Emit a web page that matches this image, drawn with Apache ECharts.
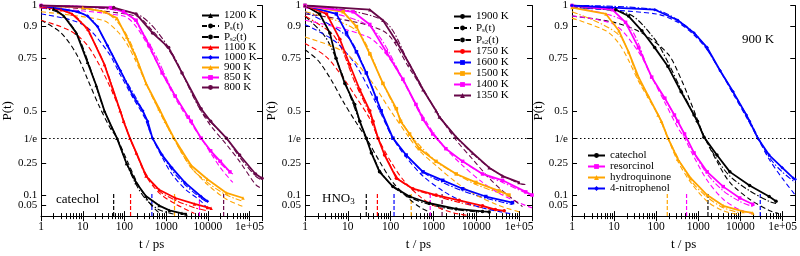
<!DOCTYPE html>
<html>
<head>
<meta charset="utf-8">
<script src="https://cdn.jsdelivr.net/npm/echarts@6/dist/echarts.min.js"></script>
<style>
html, body { margin: 0; padding: 0; background: #fff; }
#chart { width: 800px; height: 256px; }
</style>
</head>
<body>
<div id="chart"></div>
<script>
// ---- data: [t / ps, P(t)] ----

// panel 1: catechol
const cat1200 = [[1,1],[2,0.985],[3.5,0.95],[7,0.87],[13,0.73],[21,0.62],[33,0.5],[50,0.42],[66,0.37],[112,0.25],[190,0.16],[325,0.095],[680,0.05],[1200,0.027],[2400,0.013],[3000,0.01]];
const cat1100 = [[1,0.995],[3,0.98],[5.5,0.96],[13,0.89],[33,0.72],[55,0.59],[79,0.5],[95,0.45],[135,0.37],[193,0.3],[330,0.19],[680,0.125],[1660,0.086],[4800,0.058],[9800,0.041],[12000,0.037]];
const cat1000 = [[1,1],[7.8,0.97],[13,0.95],[22.6,0.9],[39,0.81],[80,0.69],[162,0.57],[275,0.5],[360,0.45],[470,0.37],[800,0.29],[1370,0.23],[2800,0.16],[6900,0.093],[9800,0.071]];
const cat900 = [[1,1],[10,0.99],[33,0.97],[66,0.94],[113,0.85],[193,0.75],[330,0.63],[680,0.51],[960,0.45],[1500,0.375],[2380,0.31],[4000,0.24],[9800,0.175],[28000,0.11],[70000,0.086]];
const cat850 = [[1,1],[46,0.99],[95,0.97],[190,0.93],[390,0.81],[800,0.68],[1650,0.57],[3400,0.47],[4000,0.45],[6900,0.37],[11700,0.31],[20000,0.26],[34000,0.21]];
const cat800 = [[1,1],[55,0.99],[190,0.96],[470,0.87],[1150,0.8],[2400,0.68],[6900,0.51],[11700,0.45],[28000,0.37],[58000,0.29],[140000,0.2],[200000,0.18]];

const cat1200Ps = [[1,0.93],[3,0.87],[7,0.77],[13,0.65],[25,0.52],[45,0.42],[66,0.37],[124,0.25],[200,0.16],[300,0.1],[450,0.05],[680,0.015]];
const cat1100Ps = [[1,0.93],[5,0.88],[13,0.81],[33,0.67],[79,0.5],[135,0.37],[200,0.29],[330,0.19],[680,0.11],[1660,0.058],[4800,0.012]];
const cat1000Ps = [[1,0.96],[10,0.91],[40,0.78],[80,0.67],[162,0.56],[300,0.47],[470,0.37],[800,0.28],[1370,0.2],[2800,0.13],[6900,0.07],[9800,0.035]];
const cat900Ps = [[1,0.97],[30,0.93],[66,0.88],[113,0.82],[193,0.73],[330,0.63],[680,0.5],[1500,0.37],[2380,0.3],[4000,0.23],[9800,0.15],[28000,0.08],[70000,0.046]];
const cat850Ps = [[1,0.99],[95,0.95],[190,0.9],[390,0.8],[800,0.68],[1650,0.56],[3400,0.46],[6900,0.37],[11700,0.3],[20000,0.23],[34000,0.175],[40000,0.16]];
const cat800Ps = [[1,1],[190,0.95],[470,0.88],[1150,0.79],[2400,0.68],[6900,0.5],[11700,0.43],[28000,0.34],[58000,0.26],[140000,0.15],[200000,0.13]];

const cat1200Ps2 = [[1,0.99],[3,0.96],[7,0.87],[13,0.74],[33,0.5],[66,0.37],[112,0.25],[190,0.15],[325,0.08],[680,0.03],[1500,0.01]];
const cat1100Ps2 = [[1,0.99],[5.5,0.96],[13,0.88],[33,0.72],[79,0.5],[135,0.37],[330,0.2],[680,0.12],[1660,0.075],[4800,0.04],[10000,0.025]];
const cat1000Ps2 = [[1,0.99],[13,0.95],[39,0.81],[80,0.69],[275,0.5],[470,0.37],[1370,0.22],[2800,0.15],[6900,0.085],[10000,0.065]];
const cat900Ps2 = [[1,1],[33,0.97],[113,0.86],[330,0.63],[680,0.5],[1500,0.37],[4000,0.23],[9800,0.16],[28000,0.1],[70000,0.07]];
const cat850Ps2 = [[1,1],[95,0.97],[390,0.82],[1650,0.57],[3400,0.47],[6900,0.37],[20000,0.25],[40000,0.2]];
const cat800Ps2 = [[1,1],[190,0.96],[1150,0.8],[6900,0.5],[28000,0.37],[58000,0.28],[140000,0.19],[200000,0.17]];

// panel 2: HNO3
const hno1900 = [[1,1],[2.2,0.96],[3.8,0.87],[5.3,0.75],[8.5,0.63],[14.5,0.53],[19,0.45],[27,0.37],[35.5,0.3],[55,0.21],[113,0.14],[277,0.093],[800,0.061],[3400,0.034],[14000,0.022],[20000,0.02]];
const hno1750 = [[1,1],[3.2,0.96],[6.5,0.84],[11,0.72],[19,0.6],[32.6,0.5],[38.8,0.45],[50.8,0.37],[72,0.29],[136,0.18],[330,0.13],[1150,0.1],[4000,0.075],[14000,0.049],[28000,0.031],[45000,0.025]];
const hno1600 = [[1,1],[5.4,0.96],[9.3,0.87],[15.9,0.78],[27,0.68],[46,0.56],[60,0.5],[113,0.37],[230,0.29],[570,0.21],[1650,0.17],[4800,0.13],[16700,0.093],[70000,0.064]];
const hno1500 = [[1,1],[7.8,0.97],[15.9,0.9],[32.6,0.77],[66,0.63],[136,0.51],[170,0.45],[277,0.39],[470,0.32],[1150,0.26],[3400,0.2],[9800,0.16],[34000,0.12],[58000,0.1]];
const hno1400 = [[1,1],[13.3,0.97],[32.6,0.91],[79,0.78],[193,0.65],[390,0.53],[570,0.46],[960,0.39],[1950,0.32],[4800,0.26],[14000,0.2],[41000,0.17],[143000,0.115],[200000,0.1]];
const hno1350 = [[1,1],[32.6,0.98],[66,0.93],[136,0.83],[277,0.72],[570,0.6],[1150,0.5],[1370,0.47],[3400,0.375],[8200,0.3],[20000,0.23],[41000,0.19],[100000,0.16]];

const hno1900Ps = [[1,0.79],[2,0.74],[4,0.65],[8,0.54],[15,0.45],[27,0.37],[55,0.26],[113,0.16],[277,0.08],[500,0.04],[800,0.02]];
const hno1750Ps = [[1,0.82],[3,0.76],[7,0.67],[15,0.57],[33,0.46],[51,0.37],[100,0.26],[200,0.17],[500,0.09],[1150,0.045],[3000,0.015],[6000,0.004]];
const hno1600Ps = [[1,0.91],[5,0.83],[15,0.72],[40,0.56],[113,0.37],[230,0.28],[570,0.19],[1650,0.12],[4800,0.07],[16700,0.035],[70000,0.01]];
const hno1500Ps = [[1,0.85],[8,0.78],[30,0.66],[100,0.5],[277,0.37],[470,0.31],[1150,0.24],[3400,0.16],[9800,0.1],[34000,0.05],[100000,0.02]];
const hno1400Ps = [[1,0.93],[30,0.85],[100,0.74],[390,0.53],[960,0.4],[1950,0.32],[4800,0.24],[14000,0.16],[41000,0.1],[143000,0.05],[200000,0.04]];
const hno1350Ps = [[1,0.96],[66,0.88],[277,0.7],[1150,0.5],[3400,0.36],[8200,0.27],[20000,0.18],[41000,0.12],[120000,0.045]];

const hno1900Ps2 = [[1,0.95],[3,0.85],[6,0.72],[14,0.52],[27,0.37],[55,0.22],[113,0.14],[277,0.09],[800,0.055],[3400,0.03],[14000,0.018]];
const hno1750Ps2 = [[1,0.95],[5,0.85],[15,0.63],[33,0.48],[51,0.37],[136,0.19],[330,0.13],[1150,0.095],[4000,0.065],[14000,0.04],[28000,0.03]];
const hno1600Ps2 = [[1,0.97],[10,0.85],[27,0.68],[60,0.5],[113,0.37],[570,0.21],[1650,0.16],[4800,0.12],[16700,0.085],[70000,0.055]];
const hno1500Ps2 = [[1,0.97],[16,0.88],[66,0.63],[136,0.5],[277,0.39],[1150,0.26],[3400,0.2],[9800,0.15],[34000,0.11],[58000,0.095]];
const hno1400Ps2 = [[1,0.99],[32.6,0.9],[193,0.65],[570,0.46],[1950,0.32],[14000,0.2],[41000,0.16],[143000,0.11],[200000,0.1]];
const hno1350Ps2 = [[1,1],[66,0.93],[277,0.72],[1150,0.5],[3400,0.375],[20000,0.23],[100000,0.155],[140000,0.15]];

// panel 3: 900 K, four molecules
const catechol = [[1,1],[11,0.98],[22,0.95],[45.6,0.88],[92,0.8],[190,0.71],[390,0.59],[790,0.48],[950,0.45],[1360,0.375],[2760,0.29],[5600,0.21],[16500,0.145],[48000,0.093],[70000,0.071]];
const resorcinol = [[1,1],[9.1,0.98],[18.7,0.92],[38,0.8],[78,0.66],[160,0.56],[270,0.48],[325,0.45],[470,0.39],[790,0.3],[1620,0.21],[3900,0.14],[9600,0.086],[19600,0.056]];
const hydroquinone = [[1,0.99],[6.4,0.96],[13,0.88],[22,0.78],[38,0.66],[65,0.57],[111,0.48],[133,0.45],[190,0.37],[325,0.27],[660,0.18],[1620,0.1],[3900,0.049],[11500,0.022],[19600,0.015]];
const nitrophenol = [[1,1],[9,0.99],[93,0.98],[325,0.93],[790,0.87],[1620,0.8],[3300,0.69],[6700,0.59],[13800,0.48],[16500,0.45],[25800,0.37],[48000,0.29],[98000,0.23],[180000,0.18],[200000,0.175]];

const catecholPs = [[1,0.95],[10,0.92],[45,0.87],[190,0.77],[390,0.65],[790,0.5],[1360,0.38],[2760,0.26],[5600,0.16],[16500,0.08],[48000,0.027],[80000,0.012]];
const resorcinolPs = [[1,0.95],[10,0.91],[38,0.78],[78,0.66],[160,0.54],[325,0.42],[470,0.37],[790,0.28],[1620,0.17],[3900,0.08],[9600,0.03],[19600,0.012]];
const hydroquinonePs = [[1,0.94],[6.4,0.88],[13,0.82],[22,0.74],[38,0.64],[65,0.56],[133,0.45],[190,0.37],[325,0.26],[660,0.16],[1620,0.07],[3900,0.025],[10000,0.005]];
const nitrophenolPs = [[1,0.99],[100,0.96],[325,0.92],[790,0.86],[1620,0.79],[3300,0.69],[6700,0.58],[13800,0.47],[25800,0.37],[48000,0.27],[98000,0.18],[200000,0.1]];

const catecholPs2 = [[1,0.99],[22,0.96],[92,0.84],[190,0.73],[390,0.6],[790,0.48],[1360,0.38],[2760,0.27],[5600,0.19],[16500,0.12],[48000,0.07],[70000,0.06]];
const resorcinolPs2 = [[1,0.99],[18.7,0.92],[78,0.66],[270,0.48],[790,0.3],[1620,0.2],[3900,0.12],[9600,0.07],[19600,0.045]];
const hydroquinonePs2 = [[1,0.97],[13,0.86],[38,0.65],[111,0.48],[190,0.37],[660,0.17],[1620,0.09],[3900,0.04],[10000,0.015]];
const nitrophenolPs2 = [[1,1],[93,0.98],[790,0.87],[3300,0.69],[13800,0.48],[48000,0.28],[98000,0.21],[200000,0.16]];

// short vertical markers at the bottom (t values)
const catTau = [55, 140, 455, 1590, 6300, 24000];
const hnoTau = [27, 49, 120, 302, 840, 1590];
const molTau = [1690, 525, 183, 29500];
const tauTop = 0.115;

// axis ticks (0.05 gets its own label axis so ECharts does not drop it or 0.1)
const yTicks = [0.05, 0.1, 0.25, 1 / Math.E, 0.5, 0.75, 0.9, 1];
const yLabelsMain = [0.1, 0.25, 1 / Math.E, 0.5, 0.75, 0.9, 1];
const yLabelsLow = [0.05];

const BLACK = '#000000', RED = '#ff0000', BLUE = '#0000ff', ORANGE = '#ffa500', MAGENTA = '#ff00ff', MAROON = '#670748';
const FONT = 'Liberation Serif';

// ---- chart ----
const chart = echarts.init(document.getElementById('chart'));

const grids = [
    { left: 35, top: 4, width: 227, height: 225 },
    { left: 305, top: 4, width: 227, height: 225 },
    { left: 572, top: 4, width: 226, height: 225 },
];

const yFmt = v => (Math.abs(v - 1 / Math.E) < 1e-6 ? '1/e' : String(v));
const yLabelStyle = { color: BLACK, fontFamily: FONT, fontSize: 11, margin: 4, hideOverlap: false, formatter: yFmt };

const xAxes = [];
const yAxes = [];
grids.forEach((g, i) => {
    const tick = { inside: true, length: 5, lineStyle: { color: BLACK } };
    const minor = { show: true, splitNumber: 9, length: 3, lineStyle: { color: BLACK } };
    xAxes.push({
        type: 'log', logBase: 10, gridIndex: i, min: 1, max: 200000, position: 'bottom',
        axisLine: { lineStyle: { color: BLACK, width: 1 } },
        axisTick: tick, minorTick: minor,
        splitLine: { show: false },
        axisLabel: {
            color: BLACK, fontFamily: FONT, fontSize: 11.5, margin: 5, hideOverlap: false,
            formatter: v => (v >= 100000 ? '1e+05' : String(v)),
        },
        name: 't / ps', nameLocation: 'middle', nameGap: 20,
        nameTextStyle: { color: BLACK, fontFamily: FONT, fontSize: 13 },
    });
    xAxes.push({
        type: 'log', logBase: 10, gridIndex: i, min: 1, max: 200000, position: 'top',
        axisLine: { lineStyle: { color: BLACK, width: 1 } },
        axisTick: tick, minorTick: minor,
        splitLine: { show: false }, axisLabel: { show: false },
    });
    // left axis: line, ticks, most labels
    yAxes.push({
        type: 'value', gridIndex: i, min: 0, max: 1, position: 'left', offset: 0,
        axisLine: { show: true, lineStyle: { color: BLACK, width: 1 } },
        axisTick: { inside: true, length: 5, customValues: yTicks, lineStyle: { color: BLACK } },
        splitLine: { show: false },
        axisLabel: Object.assign({ customValues: yLabelsMain }, yLabelStyle),
        name: 'P(t)', nameLocation: 'middle', nameGap: 24, nameRotate: 90,
        nameTextStyle: { color: BLACK, fontFamily: FONT, fontSize: 13 },
    });
    // right mirror
    yAxes.push({
        type: 'value', gridIndex: i, min: 0, max: 1, position: 'right', offset: 0,
        axisLine: { show: true, lineStyle: { color: BLACK, width: 1 } },
        axisTick: { inside: true, length: 5, customValues: yTicks, lineStyle: { color: BLACK } },
        splitLine: { show: false }, axisLabel: { show: false },
    });
    // left, label 0.05 only
    yAxes.push({
        type: 'value', gridIndex: i, min: 0, max: 1, position: 'left', offset: 0,
        axisLine: { show: false }, axisTick: { show: false }, splitLine: { show: false },
        axisLabel: Object.assign({ customValues: yLabelsLow }, yLabelStyle),
    });
});

const series = [];

function dataLine(name, data, color, panel, symbol) {
    series.push({
        type: 'line', name, data, xAxisIndex: panel * 2, yAxisIndex: panel * 3,
        symbol, symbolSize: 3.5, showSymbol: true,
        lineStyle: { color, width: 1.8 }, itemStyle: { color }, z: 4,
    });
}
function fitLine(name, data, color, panel, dash) {
    series.push({
        type: 'line', name, data, xAxisIndex: panel * 2, yAxisIndex: panel * 3,
        symbol: 'none', smooth: 0.3,
        lineStyle: { color, width: 1.1, type: dash }, itemStyle: { color }, z: 3,
    });
}
function tauLines(taus, colors, panel) {
    taus.forEach((t, k) => {
        series.push({
            type: 'line', name: 'tau', data: [[t, 0], [t, tauTop]],
            xAxisIndex: panel * 2, yAxisIndex: panel * 3, symbol: 'none',
            lineStyle: { color: colors[k], width: 1.2, type: [4, 2] }, z: 2,
        });
    });
}
function eLine(panel) {
    series.push({
        type: 'line', name: 'one over e', data: [],
        xAxisIndex: panel * 2, yAxisIndex: panel * 3,
        markLine: {
            silent: true, symbol: 'none', label: { show: false },
            lineStyle: { color: BLACK, width: 1, type: [1.5, 2.5] },
            data: [{ yAxis: 1 / Math.E }],
        },
    });
}

const DASH = [5, 3];
const DASHDOT = [6, 2, 1.5, 2];

// panel 1
eLine(0);
const catSets = [
    ['1200 K', cat1200, cat1200Ps, cat1200Ps2, BLACK, 'triangle'],
    ['1100 K', cat1100, cat1100Ps, cat1100Ps2, RED, 'triangle'],
    ['1000 K', cat1000, cat1000Ps, cat1000Ps2, BLUE, 'diamond'],
    ['900 K', cat900, cat900Ps, cat900Ps2, ORANGE, 'triangle'],
    ['850 K', cat850, cat850Ps, cat850Ps2, MAGENTA, 'rect'],
    ['800 K', cat800, cat800Ps, cat800Ps2, MAROON, 'circle'],
];
catSets.forEach(([n, d, ps, ps2, c, s], k) => {
    fitLine(k === 0 ? 'Ps' : n + ' Ps', ps, c, 0, DASH);
    fitLine(k === 0 ? 'Ps2' : n + ' Ps2', ps2, c, 0, DASHDOT);
    dataLine(n, d, c, 0, s);
});
tauLines(catTau, [BLACK, RED, BLUE, ORANGE, MAGENTA, MAROON], 0);

// panel 2
eLine(1);
const hnoSets = [
    ['1900 K', hno1900, hno1900Ps, hno1900Ps2, BLACK, 'circle'],
    ['1750 K', hno1750, hno1750Ps, hno1750Ps2, RED, 'circle'],
    ['1600 K', hno1600, hno1600Ps, hno1600Ps2, BLUE, 'rect'],
    ['1500 K', hno1500, hno1500Ps, hno1500Ps2, ORANGE, 'rect'],
    ['1400 K', hno1400, hno1400Ps, hno1400Ps2, MAGENTA, 'rect'],
    ['1350 K', hno1350, hno1350Ps, hno1350Ps2, MAROON, 'triangle'],
];
hnoSets.forEach(([n, d, ps, ps2, c, s]) => {
    fitLine(n + ' Ps', ps, c, 1, DASH);
    fitLine(n + ' Ps2', ps2, c, 1, DASHDOT);
    dataLine(n, d, c, 1, s);
});
tauLines(hnoTau, [BLACK, RED, BLUE, ORANGE, MAGENTA, MAROON], 1);

// panel 3
eLine(2);
const molSets = [
    ['catechol', catechol, catecholPs, catecholPs2, BLACK, 'circle'],
    ['resorcinol', resorcinol, resorcinolPs, resorcinolPs2, MAGENTA, 'rect'],
    ['hydroquinone', hydroquinone, hydroquinonePs, hydroquinonePs2, ORANGE, 'triangle'],
    ['4-nitrophenol', nitrophenol, nitrophenolPs, nitrophenolPs2, BLUE, 'diamond'],
];
molSets.forEach(([n, d, ps, ps2, c, s]) => {
    fitLine(n + ' Ps', ps, c, 2, DASH);
    fitLine(n + ' Ps2', ps2, c, 2, DASHDOT);
    dataLine(n, d, c, 2, s);
});
tauLines(molTau, [BLACK, MAGENTA, ORANGE, BLUE], 2);

const legendText = {
    color: BLACK, fontFamily: FONT, fontSize: 11, lineHeight: 10,
    rich: {
        p: { fontFamily: FONT, fontSize: 11, color: BLACK, lineHeight: 10 },
        s: { fontFamily: FONT, fontSize: 7, color: BLACK, lineHeight: 10, padding: [5, 0, 0, 0] },
    },
};
const legendFmt = n => (n === 'Ps' ? '{p|P}{s|s}{p|(t)}' : n === 'Ps2' ? '{p|P}{s|s2}{p|(t)}' : n);
const legendBase = {
    orient: 'vertical', itemWidth: 17, itemHeight: 6, itemGap: 0,
    textStyle: legendText, formatter: legendFmt, selectedMode: false, padding: 0,
};

const option = {
    animation: false,
    backgroundColor: '#ffffff',
    grid: grids,
    xAxis: xAxes,
    yAxis: yAxes,
    legend: [
        Object.assign({}, legendBase, { left: 201, top: 10, itemGap: -1, data: ['1200 K', 'Ps', 'Ps2', '1100 K', '1000 K', '900 K', '850 K', '800 K'] }),
        Object.assign({}, legendBase, { left: 453, top: 11, itemGap: 0, data: ['1900 K', 'Ps', 'Ps2', '1750 K', '1600 K', '1500 K', '1400 K', '1350 K'] }),
        Object.assign({}, legendBase, { left: 587, top: 150, itemGap: 0, data: ['catechol', 'resorcinol', 'hydroquinone', '4-nitrophenol'] }),
    ],
    graphic: [
        { type: 'text', left: 56, top: 193, style: { text: 'catechol', fill: BLACK, font: '13px "Liberation Serif"' } },
        {
            type: 'text', left: 322, top: 192,
            style: {
                text: '{a|HNO}{b|3}', fill: BLACK,
                rich: { a: { fontFamily: FONT, fontSize: 13 }, b: { fontFamily: FONT, fontSize: 9, padding: [7, 0, 0, 0] } },
            },
        },
        { type: 'text', left: 742, top: 33, style: { text: '900 K', fill: BLACK, font: '13px "Liberation Serif"' } },
    ],
    series,
};

chart.setOption(option);
</script>
</body>
</html>
